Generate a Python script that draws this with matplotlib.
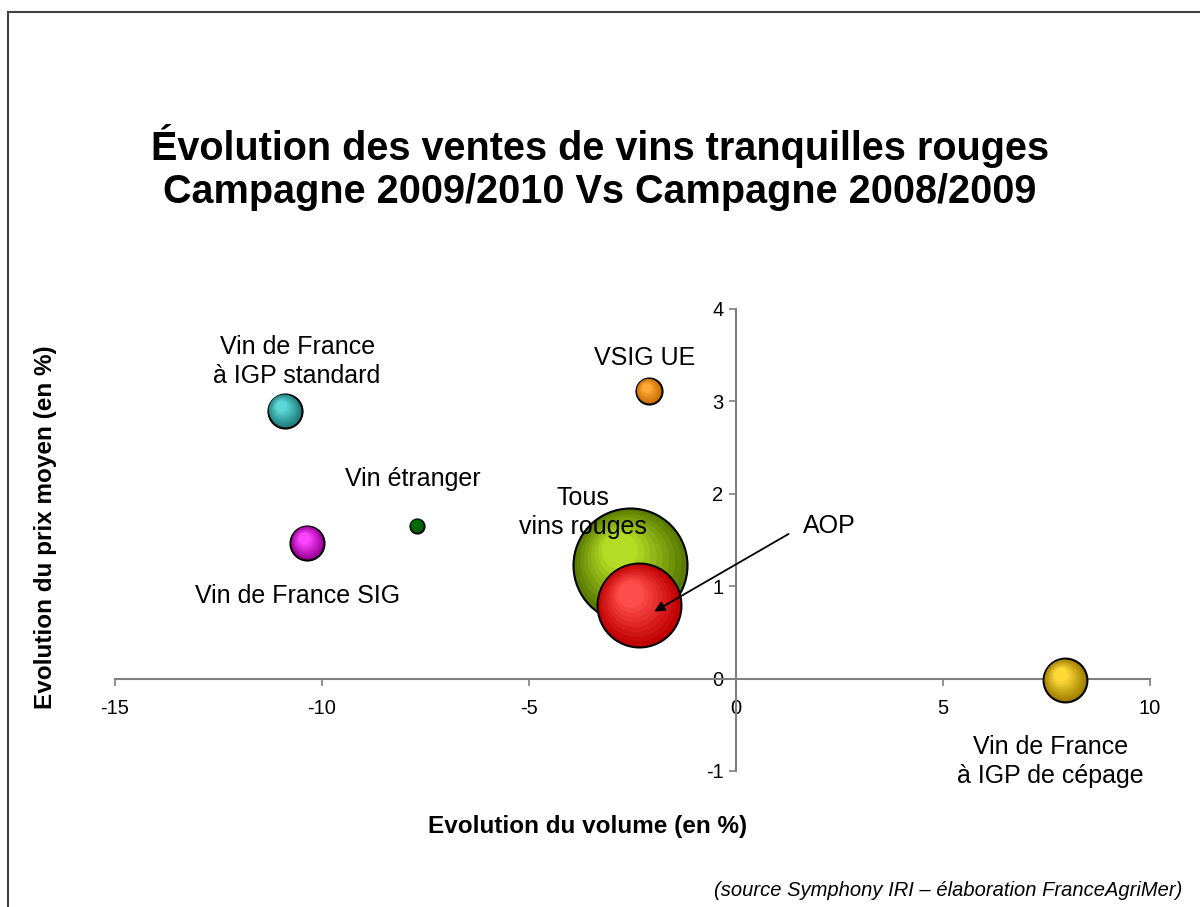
import numpy as np
import matplotlib
matplotlib.use("Agg")
from matplotlib import pyplot as plt
from matplotlib import transforms
from matplotlib.colors import to_rgb
from matplotlib.lines import Line2D

plt.rcParams['font.family'] = ['Liberation Sans', 'DejaVu Sans']
plt.rcParams['axes.unicode_minus'] = False

# Data.
categories = ["Vin de France\nà IGP standard", "VSIG UE", "Vin étranger", "Vin de France SIG",
              "Tous\nvins rouges", "AOP", "Vin de France\nà IGP de cépage"]
evol_volume = [-10.9, -2.1, -7.7, -10.35, -2.55, -2.35, 7.95]
evol_prix = [2.90, 3.11, 1.65, 1.47, 1.23, 0.80, -0.02]
taille_bulles = [2.9, 1.7, 0.5, 2.9, 32.5, 17.6, 4.8]

# Colours: (edge/dark, centre/light).
couleurs = [("#217E7E", "#5CD8D8"), ("#C86E00", "#FFAA38"), ("#005A00", "#006E00"),
            ("#9A009A", "#FF44FF"), ("#5A7A00", "#B4DC24"), ("#C00000", "#FF4C4C"),
            ("#A07E00", "#FFD838")]

# Label positions (data coords).
label_pos = [(-10.6, 3.43), (-2.2, 3.47), (-7.8, 2.16), (-10.6, 0.89),
             (-3.7, 1.80), (2.25, 1.65), (7.6, -0.90)]

fig = plt.figure(figsize=(12, 9.07), dpi=100)
ax = fig.add_axes([0.0958, 0.150, 0.8625, 0.5094])
ax.set_xlim(-15, 10)
ax.set_ylim(-1, 4)

# Axes crossing at zero.
for s in ['top', 'right']:
    ax.spines[s].set_visible(False)
ax.spines['left'].set_position(('data', 0))
ax.spines['bottom'].set_position(('data', 0))
for s in ['left', 'bottom']:
    ax.spines[s].set_color('#808080')
    ax.spines[s].set_linewidth(1.5)
ax.set_xticks([-15, -10, -5, 0, 5, 10])
ax.set_yticks([-1, 0, 1, 2, 3, 4])
ax.tick_params(axis='both', direction='out', length=5, width=1.2, color='#808080',
               labelsize=14.5)
ax.tick_params(axis='x', pad=10)
ax.tick_params(axis='y', pad=4)
ax.patch.set_alpha(0)

# Bubbles with a stepped radial shading.
nLayer = 9
for i in range(len(categories)):
    r_px = 10.0 * np.sqrt(taille_bulles[i])
    r_pt = r_px * 0.72
    dark = np.array(to_rgb(couleurs[i][0]))
    light = np.array(to_rgb(couleurs[i][1]))
    for k in range(nLayer):
        f = 1.0 - 0.68 * k / (nLayer - 1)
        c = dark + (light - dark) * (k / (nLayer - 1))
        off = (1.0 - f) * r_pt * 0.45
        tr = ax.transData + transforms.ScaledTranslation(-0.6 * off / 72, 0.8 * off / 72,
                                                         fig.dpi_scale_trans)
        ax.scatter([evol_volume[i]], [evol_prix[i]], s=(2 * r_pt * f) ** 2, color=c,
                   edgecolors='black' if k == 0 else 'none', linewidths=1.5 if k == 0 else 0,
                   transform=tr, zorder=3 + i, clip_on=False)

# Category labels.
for i in range(len(categories)):
    ax.text(label_pos[i][0], label_pos[i][1], categories[i], ha='center', va='center',
            fontsize=18, linespacing=1.27, zorder=20)

# Arrow pointing to AOP.
ax.annotate("", xy=(-2.03, 0.71), xytext=(1.33, 1.58),
            arrowprops=dict(arrowstyle='-|>', color='black', lw=1.3, mutation_scale=15),
            zorder=30)

# Axis titles.
fig.text(588 / 1200, 1 - 826 / 907, "Evolution du volume (en %)", ha='center', va='center',
         fontsize=17.5, fontweight='bold')
fig.text(46 / 1200, 1 - 527 / 907, "Evolution du prix moyen (en %)", ha='center', va='center',
         rotation=90, fontsize=17.5, fontweight='bold')

fig.text(0.5, 1 - 167.5 / 907, "Évolution des ventes de vins tranquilles rouges\nCampagne 2009/2010 Vs Campagne 2008/2009",
         ha='center', va='center', fontsize=28.5, fontweight='bold', linespacing=1.15)
fig.text(1182 / 1200, 1 - 890 / 907, "(source Symphony IRI – élaboration FranceAgriMer)", ha='right', va='center',
         fontsize=14.5, style='italic')

# Frame around the figure.
fig.add_artist(Line2D([8 / 1200, 8 / 1200], [0, 1 - 12 / 907], color='#404040', lw=1.5))
fig.add_artist(Line2D([8 / 1200, 1], [1 - 12 / 907, 1 - 12 / 907], color='#404040', lw=1.5))

fig.savefig("out.png", dpi=100)
